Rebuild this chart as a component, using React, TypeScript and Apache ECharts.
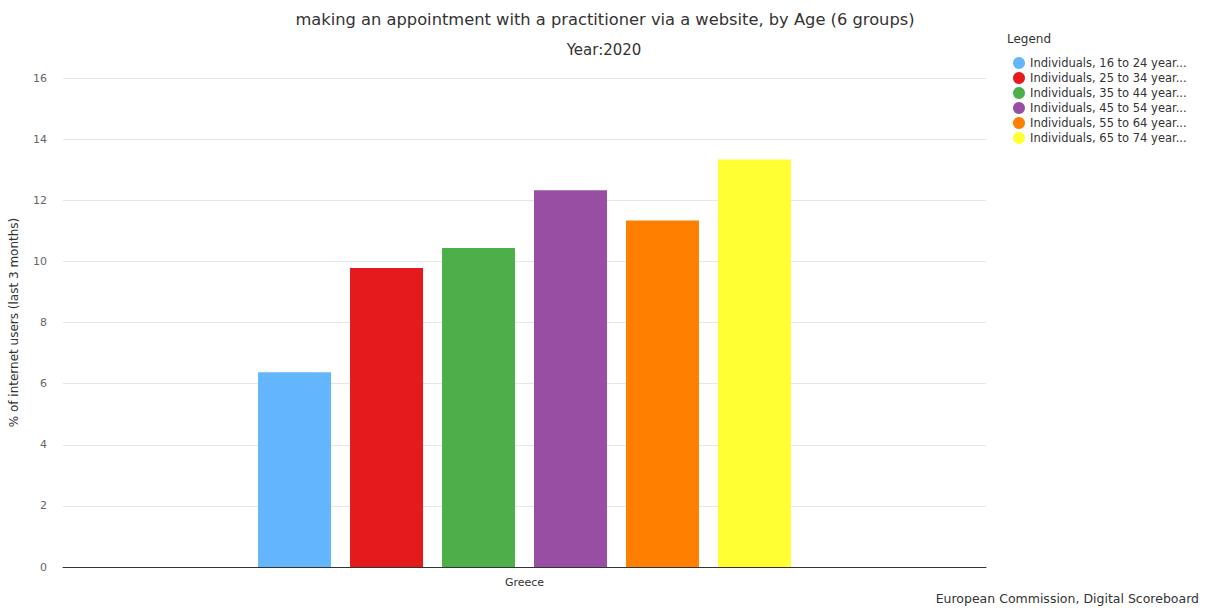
import React, { useEffect, useRef } from "react";
import * as echarts from "echarts";

const categories = ["Greece"];
const seriesNames = [
  "Individuals, 16 to 24 years old",
  "Individuals, 25 to 34 years old",
  "Individuals, 35 to 44 years old",
  "Individuals, 45 to 54 years old",
  "Individuals, 55 to 64 years old",
  "Individuals, 65 to 74 years old",
];
const seriesValues = [6.37, 9.78, 10.44, 12.33, 11.34, 13.33];
const seriesColors = ["#63b5fc", "#e41a1c", "#4daf4a", "#984ea3", "#ff7f00", "#ffff33"];
const yTicks = { min: 0, max: 16, interval: 2 };

const FONT = "'DejaVu Sans', Verdana, sans-serif";

export default function App() {
  const ref = useRef<HTMLDivElement>(null);
  useEffect(() => {
    document.body.style.margin = "0";
    const chart = echarts.init(ref.current!, null, { renderer: "svg" });
    chart.setOption({
      animation: false,
      backgroundColor: "#ffffff",
      textStyle: { fontFamily: FONT },
      title: [
        {
          text: "making an appointment with a practitioner via a website, by Age (6 groups)",
          left: 600,
          textAlign: "center",
          top: 6,
          textStyle: { fontSize: 16.3, fontWeight: "normal", color: "#333333", fontFamily: FONT },
        },
        {
          text: "Year:2020",
          left: 599,
          textAlign: "center",
          top: 37,
          textStyle: { fontSize: 15, fontWeight: "normal", color: "#333333", fontFamily: FONT },
        },
        {
          text: "Legend",
          left: 1007,
          top: 33,
          padding: 0,
          textStyle: { fontSize: 12, fontWeight: "normal", color: "#333333", fontFamily: FONT },
        },
        {
          text: "European Commission, Digital Scoreboard",
          right: 17,
          top: 592,
          padding: 0,
          textStyle: { fontSize: 12.5, fontWeight: "normal", color: "#333333", fontFamily: FONT },
        },
      ],
      legend: {
        orient: "vertical",
        left: 1008,
        top: 52,
        icon: "circle",
        itemWidth: 12,
        itemHeight: 12,
        itemGap: 3,
        data: seriesNames,
        formatter: (n: string) => n.slice(0, 26) + "...",
        textStyle: { fontSize: 11.5, color: "#333333", fontFamily: FONT },
      },
      grid: { left: 62, right: 230, top: 78, bottom: 41 },
      xAxis: {
        type: "category",
        data: categories,
        axisLine: { lineStyle: { color: "#333333", width: 1 } },
        axisTick: { show: false },
        axisLabel: { fontSize: 11, color: "#333333", margin: 10 },
      },
      yAxis: {
        type: "value",
        min: yTicks.min,
        max: yTicks.max,
        interval: yTicks.interval,
        name: "% of internet users (last 3 months)",
        nameLocation: "middle",
        nameGap: 43,
        nameTextStyle: { fontSize: 12, color: "#333333" },
        axisLabel: { fontSize: 11, color: "#666666", margin: 16 },
        splitLine: { lineStyle: { color: "#e6e6e6" } },
        axisLine: { show: false },
        axisTick: { show: false },
      },
      series: seriesNames.map((name, i) => ({
        name,
        type: "bar",
        data: [seriesValues[i]],
        barWidth: 73,
        barGap: "26%",
        itemStyle: { color: seriesColors[i] },
      })),
    });
    return () => chart.dispose();
  }, []);
  return <div ref={ref} style={{ width: 1216, height: 608 }} />;
}
